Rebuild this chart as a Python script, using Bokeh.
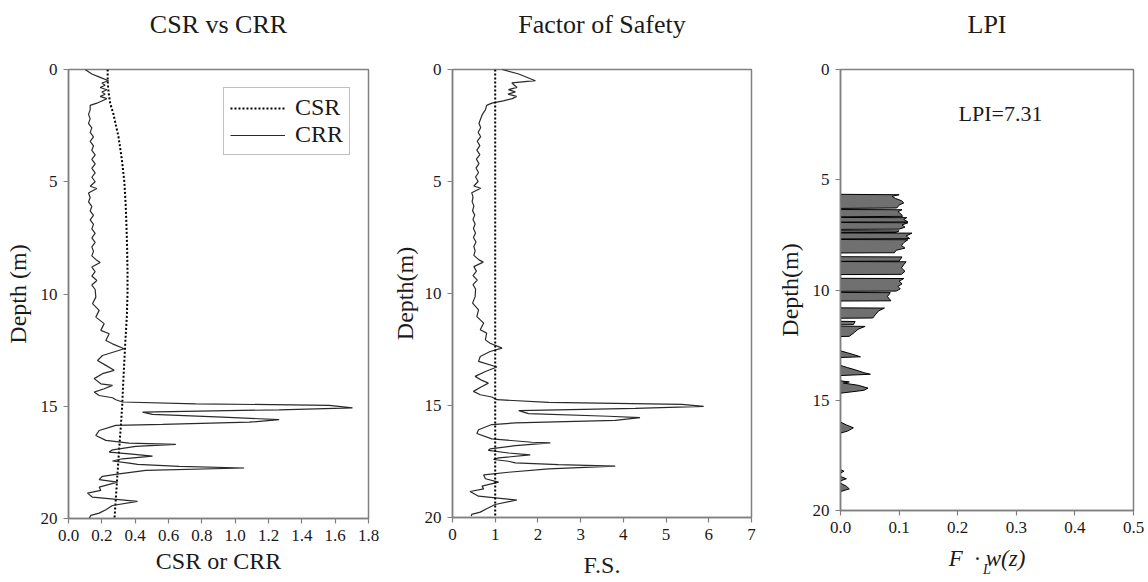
from bokeh.plotting import figure
from bokeh.layouts import row
from bokeh.models import (Range1d, FixedTicker, NumeralTickFormatter, Span,
                          Label, Legend, LegendItem, Title, LinearAxis)
from bokeh.embed import file_html
from bokeh.resources import INLINE

# ---------------- data ----------------
csr_depth = [0.0, 0.5, 1.0, 1.5, 2.0, 2.5, 3.0, 4.0, 5.0, 6.0, 7.0, 8.0, 9.0,
             10.0, 11.0, 12.0, 13.0, 14.0, 15.0, 16.0, 17.0, 18.0, 19.0, 20.0]
csr_value = [0.235, 0.235, 0.24, 0.25, 0.27, 0.285, 0.30, 0.32, 0.335, 0.343,
             0.348, 0.352, 0.354, 0.354, 0.35, 0.342, 0.335, 0.328, 0.322,
             0.313, 0.303, 0.294, 0.285, 0.276]

crr_depth = [0.0, 0.2, 0.35, 0.5, 0.6, 0.7, 0.8, 0.9, 1.0, 1.1, 1.2, 1.3, 1.4,
             1.5, 1.6, 1.8, 2.0, 2.2, 2.4, 2.6, 2.8, 3.0, 3.2, 3.4, 3.6, 3.8,
             4.0, 4.2, 4.4, 4.6, 4.8, 5.0, 5.2, 5.3, 5.5, 5.7, 5.9, 6.1, 6.3,
             6.5, 6.7, 6.9, 7.1, 7.3, 7.5, 7.7, 7.9, 8.1, 8.3, 8.5, 8.6, 8.8,
             9.0, 9.2, 9.4, 9.6, 9.8,
             10.14, 10.43, 10.73, 11.03, 11.32, 11.62, 11.77, 12.07, 12.22,
             12.44, 12.74, 12.96, 13.18, 13.40, 13.55, 13.77, 14.0, 14.07,
             14.22, 14.37, 14.52, 14.62, 14.71, 14.81, 14.89, 14.96, 15.07,
             15.16, 15.26, 15.36, 15.48, 15.60, 15.71, 15.81, 15.85, 16.08,
             16.30, 16.52, 16.64, 16.70, 16.79, 16.94, 17.04, 17.12, 17.22,
             17.34, 17.44, 17.53, 17.59, 17.68, 17.75, 17.86, 18.01, 18.12,
             18.27, 18.38, 18.60, 18.75, 18.87, 19.05, 19.24, 19.42, 19.61,
             19.76, 19.86, 20.0]
crr_value = [0.10, 0.14, 0.19, 0.24, 0.20, 0.22, 0.19, 0.23, 0.20, 0.22,
             0.19, 0.23, 0.20, 0.17, 0.13, 0.13, 0.12, 0.13, 0.12, 0.14,
             0.13, 0.15, 0.13, 0.15, 0.14, 0.16, 0.14, 0.16, 0.14, 0.16,
             0.14, 0.16, 0.13, 0.17, 0.12, 0.13, 0.12, 0.14, 0.13, 0.15,
             0.13, 0.15, 0.14, 0.16, 0.14, 0.16, 0.14, 0.15, 0.14, 0.17,
             0.19, 0.14, 0.16, 0.14, 0.17, 0.14, 0.16,
             0.164, 0.144, 0.184, 0.164, 0.214, 0.194, 0.244, 0.224, 0.264,
             0.334, 0.204, 0.174, 0.224, 0.274, 0.204, 0.154, 0.194, 0.264,
             0.214, 0.154, 0.184, 0.264, 0.284, 0.324, 0.764, 1.564, 1.704,
             1.264, 0.444, 0.504, 0.924, 1.264, 1.084, 0.564, 0.284, 0.184,
             0.164, 0.224, 0.364, 0.644, 0.404, 0.264, 0.244, 0.364, 0.504,
             0.324, 0.264, 0.364, 0.414, 0.664, 1.054, 0.464, 0.304, 0.204,
             0.184, 0.294, 0.184, 0.194, 0.114, 0.144, 0.414, 0.264, 0.224,
             0.184, 0.134, 0.124]

fs_depth = [0.0, 0.2, 0.5, 0.6, 0.7, 0.8, 0.9, 1.0, 1.1, 1.2, 1.3, 1.4, 1.5,
            1.6, 1.8, 2.0, 2.2, 2.4, 2.6, 2.8, 3.0, 3.2, 3.4, 3.6, 3.8, 4.0,
            4.2, 4.4, 4.6, 4.8, 5.0, 5.2, 5.3, 5.5, 5.7, 5.9, 6.1, 6.3, 6.5,
            6.7, 6.9, 7.1, 7.3, 7.5, 7.7, 7.9, 8.1, 8.3, 8.5, 8.6, 8.8, 9.0,
            9.2, 9.4, 9.6, 9.8,
            10.14, 10.43, 10.73, 11.03, 11.32, 11.62, 11.77, 12.07, 12.22,
            12.44, 12.59, 12.81, 13.03, 13.28, 13.48, 13.70, 13.88, 14.0,
            14.15, 14.37, 14.52, 14.62, 14.74, 14.86, 14.95, 15.04, 15.13,
            15.23, 15.36, 15.48, 15.54, 15.66, 15.78, 15.85, 16.08, 16.25,
            16.49, 16.64, 16.67, 16.79, 16.94, 17.0, 17.12, 17.20, 17.34,
            17.41, 17.49, 17.56, 17.64, 17.71, 17.83, 17.98, 18.10, 18.27,
            18.42, 18.60, 18.72, 18.84, 19.05, 19.22, 19.42, 19.61, 19.76,
            19.86, 19.94]
fs_value = [1.16, 1.55, 1.94, 1.39, 1.45, 1.51, 1.31, 1.47, 1.30, 1.50,
            1.40, 1.19, 0.92, 0.80, 0.77, 0.70, 0.66, 0.62, 0.66, 0.60,
            0.66, 0.58, 0.64, 0.57, 0.64, 0.56, 0.62, 0.55, 0.61, 0.54,
            0.60, 0.50, 0.66, 0.45, 0.48, 0.46, 0.50, 0.47, 0.52, 0.48,
            0.53, 0.49, 0.54, 0.49, 0.55, 0.50, 0.53, 0.50, 0.62, 0.72,
            0.50, 0.56, 0.48, 0.58, 0.48, 0.54,
            0.53, 0.47, 0.61, 0.57, 0.73, 0.65, 0.80, 0.77, 0.88, 1.16,
            0.88, 0.65, 0.61, 1.04, 0.77, 0.53, 0.69, 0.84, 0.69, 0.49,
            0.65, 0.92, 1.04, 2.25, 5.37, 5.88, 4.28, 1.55, 1.78, 3.65,
            4.39, 3.81, 1.47, 0.92, 0.61, 0.57, 0.92, 1.86, 2.29, 1.47,
            0.88, 0.84, 1.31, 1.82, 1.08, 0.96, 1.31, 1.47, 2.48, 3.81,
            2.25, 1.31, 0.73, 0.77, 1.08, 0.69, 0.73, 0.41, 0.61, 1.51,
            1.00, 0.80, 0.65, 0.45, 0.44]
fs_threshold = 1.0

lpi_depth = [5.66, 5.68, 5.75, 5.85, 5.95, 6.05, 6.15, 6.28, 6.30,
             6.35, 6.36, 6.45, 6.55, 6.66, 6.68,
             6.71, 6.72, 6.80, 6.91, 6.92,
             6.94, 6.95, 7.05, 7.15, 7.24, 7.25,
             7.31, 7.32, 7.39, 7.40,
             7.41, 7.42, 7.55, 7.67, 7.68,
             7.71, 7.72, 7.85, 7.98, 8.10, 8.20, 8.31, 8.32,
             8.49, 8.50, 8.69, 8.70,
             8.71, 8.72, 8.85, 9.00, 9.15, 9.29, 9.30,
             9.47, 9.48, 9.60, 9.72, 9.84, 9.95, 10.05, 10.06,
             10.11, 10.12, 10.30, 10.49, 10.50,
             10.81, 10.82, 10.95, 11.10, 11.27, 11.28,
             11.42, 11.43, 11.57, 11.58,
             11.64, 11.65, 11.78, 11.92, 12.10, 12.11,
             12.76, 12.85, 12.95, 13.03, 13.06,
             13.42, 13.52, 13.62, 13.75, 13.82, 13.88,
             14.12, 14.17, 14.22, 14.32, 14.45, 14.55, 14.68,
             15.99, 16.12, 16.25, 16.40, 16.49,
             18.15, 18.22, 18.30,
             18.46, 18.56, 18.66,
             18.76, 18.90, 19.02, 19.14]
lpi_value = [0.0, 0.100, 0.088, 0.094, 0.104, 0.108, 0.100, 0.096, 0.0,
             0.0, 0.105, 0.098, 0.103, 0.106, 0.0,
             0.0, 0.113, 0.108, 0.115, 0.0,
             0.0, 0.115, 0.105, 0.110, 0.100, 0.0,
             0.0, 0.100, 0.095, 0.0,
             0.0, 0.122, 0.112, 0.118, 0.0,
             0.0, 0.115, 0.108, 0.104, 0.110, 0.095, 0.092, 0.0,
             0.0, 0.105, 0.100, 0.0,
             0.0, 0.112, 0.108, 0.104, 0.110, 0.104, 0.0,
             0.0, 0.108, 0.100, 0.105, 0.098, 0.102, 0.095, 0.0,
             0.0, 0.085, 0.080, 0.086, 0.0,
             0.0, 0.075, 0.065, 0.060, 0.055, 0.0,
             0.0, 0.025, 0.022, 0.0,
             0.0, 0.042, 0.030, 0.024, 0.015, 0.0,
             0.0, 0.012, 0.025, 0.034, 0.0,
             0.0, 0.012, 0.025, 0.040, 0.051, 0.0,
             0.0, 0.015, 0.005, 0.030, 0.047, 0.040, 0.0,
             0.0, 0.010, 0.022, 0.012, 0.0,
             0.0, 0.006, 0.0,
             0.0, 0.010, 0.0,
             0.0, 0.010, 0.015, 0.0]
lpi_text = "LPI=7.31"

depth_ticks = [0, 5, 10, 15, 20]
csr_ticks = [0.0, 0.2, 0.4, 0.6, 0.8, 1.0, 1.2, 1.4, 1.6, 1.8]
fs_ticks = [0, 1, 2, 3, 4, 5, 6, 7]
lpi_ticks = [0.0, 0.1, 0.2, 0.3, 0.4, 0.5]

# ---------------- styling helpers ----------------
SERIF = "Liberation Serif"
AXIS_GRAY = "#808080"
TEXT = "#1a1a1a"


def make_fig(title, xr, frame_w, frame_h, left, right, top, bottom):
    p = figure(title=None, x_range=Range1d(*xr), y_range=Range1d(20, 0),
               frame_width=frame_w, frame_height=frame_h,
               min_border_left=left, min_border_right=right,
               min_border_top=top, min_border_bottom=bottom,
               output_backend="svg", toolbar_location=None)
    # spacer title keeps the real title higher above the frame
    p.add_layout(Title(text=" ", text_font_size="2px", standoff=22), "above")
    p.add_layout(Title(text=title, text_font=SERIF, text_font_size="26px",
                       text_font_style="normal", text_color=TEXT,
                       align="center", standoff=10), "above")
    p.grid.visible = False
    p.outline_line_color = AXIS_GRAY
    p.outline_line_width = 1.5
    p.background_fill_color = "white"
    p.border_fill_color = "white"
    for ax in (p.xaxis[0], p.yaxis[0]):
        ax.axis_line_color = AXIS_GRAY
        ax.axis_line_width = 1.5
        ax.major_tick_line_color = AXIS_GRAY
        ax.major_tick_line_width = 1.2
        ax.major_tick_out = 5
        ax.major_tick_in = 0
        ax.minor_tick_line_color = None
        ax.major_label_text_font = SERIF
        ax.major_label_text_font_size = "17px"
        ax.major_label_text_font_style = "normal"
        ax.major_label_text_color = TEXT
        ax.axis_label_text_font = SERIF
        ax.axis_label_text_font_size = "24px"
        ax.axis_label_text_font_style = "normal"
        ax.axis_label_text_color = TEXT
    p.yaxis[0].ticker = FixedTicker(ticks=depth_ticks)
    p.yaxis[0].formatter = NumeralTickFormatter(format="0")
    p.yaxis[0].major_label_standoff = 6
    p.yaxis[0].axis_label_standoff = 7
    p.xaxis[0].major_label_standoff = 6
    return p


def text_axis(p, text, size, bounds, standoff):
    """An axis that only carries a piece of label text below the frame."""
    ax = LinearAxis(ticker=FixedTicker(ticks=[]), bounds=bounds,
                    axis_line_color=None, major_tick_line_color=None,
                    minor_tick_line_color=None, major_tick_out=0,
                    major_tick_in=0, major_label_standoff=0,
                    axis_label=text, axis_label_text_font=SERIF,
                    axis_label_text_font_size=size,
                    axis_label_text_font_style="italic",
                    axis_label_text_color=TEXT,
                    axis_label_standoff=standoff)
    p.add_layout(ax, "below")
    return ax


# ---------------- panel 1: CSR vs CRR ----------------
p1 = make_fig("CSR vs CRR", (0, 1.8), 300, 449, 68, 12, 69, 64)
p1.xaxis[0].ticker = FixedTicker(ticks=csr_ticks)
p1.xaxis[0].formatter = NumeralTickFormatter(format="0.0")
p1.xaxis[0].axis_label = "CSR or CRR"
p1.xaxis[0].axis_label_standoff = 4
p1.yaxis[0].axis_label = "Depth (m)"
r_csr = p1.line(csr_value, csr_depth, line_color="black", line_width=2,
                line_dash="2 2")
r_crr = p1.line(crr_value, crr_depth, line_color="#2a2a2a", line_width=1.2)
legend = Legend(items=[LegendItem(label="CSR", renderers=[r_csr]),
                       LegendItem(label="CRR", renderers=[r_crr])],
                location="top_right")
legend.label_text_font = SERIF
legend.label_text_font_size = "24px"
legend.label_text_color = TEXT
legend.glyph_width = 55
legend.glyph_height = 24
legend.label_height = 24
legend.label_standoff = 10
legend.padding = 6
legend.spacing = 0
legend.margin = 18
legend.border_line_color = AXIS_GRAY
legend.border_line_width = 1.2
legend.background_fill_alpha = 1.0
p1.add_layout(legend)

# ---------------- panel 2: Factor of Safety ----------------
p2 = make_fig("Factor of Safety", (0, 7), 299, 448, 72, 14, 69, 65)
p2.xaxis[0].ticker = FixedTicker(ticks=fs_ticks)
p2.xaxis[0].formatter = NumeralTickFormatter(format="0")
p2.xaxis[0].axis_label = "F.S."
p2.xaxis[0].axis_label_standoff = 9
p2.yaxis[0].axis_label = "Depth(m)"
p2.yaxis[0].axis_label_standoff = 4
p2.add_layout(Span(location=fs_threshold, dimension="height",
                   line_color="black", line_width=2, line_dash="2 2"))
p2.line(fs_value, fs_depth, line_color="#2a2a2a", line_width=1.2)

# ---------------- panel 3: LPI ----------------
p3 = make_fig("LPI", (0, 0.5), 293, 441, 75, 15, 68, 73)
p3.xaxis[0].ticker = FixedTicker(ticks=lpi_ticks)
p3.xaxis[0].formatter = NumeralTickFormatter(format="0.0")
p3.yaxis[0].axis_label = "Depth(m)"
p3.harea(x1=0, x2=lpi_value, y=lpi_depth, fill_color="#707070",
         fill_alpha=1.0)
p3.line(lpi_value, lpi_depth, line_color="black", line_width=1)
p3.add_layout(Label(x=0.273, y=2.0, text=lpi_text, text_font=SERIF,
                    text_font_size="22px", text_color=TEXT,
                    text_align="center", text_baseline="middle"))
# x-axis label  F_L · w(z): main italic text, then the lowered subscript L
text_axis(p3, "F\u00a0\u00a0\u00b7 w(z)", "23px", (0.21, 0.2508), 10)
text_axis(p3, "L", "14px", (0.19, 0.206), -12)

layout = row(p1, p2, p3, spacing=0)
open("out.html", "w").write(file_html(layout, INLINE))
